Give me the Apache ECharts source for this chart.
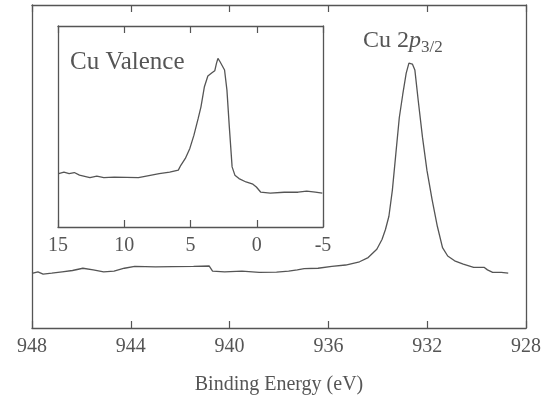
<!DOCTYPE html>
<html>
<head>
<meta charset="utf-8">
<script src="https://cdn.jsdelivr.net/npm/echarts@6/dist/echarts.min.js"></script>
<style>
  html, body { margin: 0; padding: 0; background: #fff; }
  #main { width: 545px; height: 400px; }
</style>
</head>
<body>
<div id="main"></div>
<script>
// Cu 2p3/2 core level (main plot)
var coreEnergy = [948.0, 947.76, 947.55, 947.2, 946.78, 946.36, 945.94, 945.52, 945.1, 944.68,
  944.26, 943.84, 943.0, 942.3, 941.46, 940.83, 940.69, 940.2, 939.5, 938.8,
  938.1, 937.61, 937.26, 936.98, 936.42, 935.86, 935.3, 934.74, 934.39, 934.04,
  933.83, 933.69, 933.55, 933.41, 933.27, 933.13, 932.99, 932.85, 932.74, 932.67,
  932.6, 932.5, 932.36, 932.19, 932.01, 931.8, 931.59, 931.38, 931.17, 930.89,
  930.54, 930.12, 929.7, 929.56, 929.35, 929.0, 928.72];
var coreCounts = [16.9, 17.4, 16.7, 17.0, 17.4, 17.8, 18.5, 18.0, 17.4, 17.6,
  18.5, 19.1, 18.9, 19.0, 19.1, 19.2, 17.6, 17.4, 17.6, 17.2,
  17.3, 17.6, 18.0, 18.4, 18.5, 19.1, 19.5, 20.5, 21.8, 24.4,
  27.4, 30.5, 34.6, 42.7, 53.9, 65.1, 72.3, 78.9, 82.0, 82.5,
  81.7, 79.9, 70.2, 59.0, 48.8, 39.7, 31.5, 24.9, 22.3, 20.8,
  19.8, 18.8, 18.8, 18.0, 17.2, 17.2, 17.0];

// Cu valence band (inset)
var valenceEnergy = [14.95, 14.55, 14.16, 13.77, 13.38, 12.59, 12.07, 11.54, 10.76, 8.93,
  8.14, 7.36, 6.57, 5.92, 5.73, 5.39, 5.05, 4.74, 4.42, 4.21,
  3.95, 3.69, 3.38, 3.17, 3.04, 2.93, 2.77, 2.64, 2.43, 2.25,
  2.07, 1.86, 1.65, 1.34, 0.81, 0.29, 0.03, -0.29, -1.02, -2.07,
  -3.12, -3.77, -4.42, -4.95];
var valenceCounts = [26.6, 27.3, 26.6, 27.1, 25.8, 24.6, 25.3, 24.6, 24.8, 24.6,
  25.6, 26.6, 27.3, 28.3, 30.7, 34.1, 39.1, 45.7, 54.0, 59.8,
  69.8, 75.1, 76.7, 77.7, 81.4, 83.9, 82.2, 82.7, 78.1, 68.1,
  49.8, 29.9, 25.8, 24.1, 22.4, 21.3, 19.9, 17.4, 16.9, 17.3,
  17.3, 17.9, 17.4, 16.9];

function zip(xs, ys) {
  var out = [];
  for (var i = 0; i < xs.length; i++) out.push([xs[i], ys[i]]);
  return out;
}

var ink = '#555';
var font = 'Liberation Serif';

var chart = echarts.init(document.getElementById('main'));

function xAxisFor(gridIndex, min, max, interval, pos, showLabels, name) {
  return {
    type: 'value', gridIndex: gridIndex, position: pos,
    min: min, max: max, interval: interval, inverse: true,
    axisLine: { show: true, onZero: false, lineStyle: { color: ink, width: 1.3 } },
    axisTick: { show: true, inside: true, length: 7, lineStyle: { color: ink, width: 1.2 } },
    axisLabel: { show: showLabels, margin: 9, color: ink, fontFamily: font, fontSize: 20 },
    splitLine: { show: false },
    name: name || '', nameLocation: 'middle', nameGap: 47,
    nameTextStyle: { color: ink, fontFamily: font, fontSize: 20 }
  };
}
function yAxisFor(gridIndex, pos) {
  return {
    type: 'value', gridIndex: gridIndex, position: pos, min: 0, max: 100,
    axisLine: { show: true, onZero: false, lineStyle: { color: ink, width: 1.3 } },
    axisTick: { show: false }, axisLabel: { show: false }, splitLine: { show: false }
  };
}

chart.setOption({
  animation: false,
  backgroundColor: '#fff',
  title: [
    { text: 'Cu Valence', left: 65, top: 45,
      textStyle: { color: ink, fontFamily: font, fontSize: 25, fontWeight: 'normal' } },
    { text: 'Cu 2{i|p}{s|3/2}', left: 358, top: 21,
      textStyle: { color: ink, fontFamily: font, fontSize: 24, fontWeight: 'normal',
        rich: {
          i: { fontFamily: font, fontSize: 24, fontStyle: 'italic', color: ink },
          s: { fontFamily: font, fontSize: 17, color: ink, verticalAlign: 'bottom', padding: [13, 0, 0, 0] }
        } } }
  ],
  grid: [
    { left: 32, right: 19, top: 5, bottom: 67 },
    { left: 58, width: 265, top: 26, height: 201, show: true, backgroundColor: '#fff', borderWidth: 0 }
  ],
  xAxis: [
    xAxisFor(0, 928, 948, 4, 'bottom', true, 'Binding Energy (eV)'),
    xAxisFor(0, 928, 948, 4, 'top', false),
    xAxisFor(1, -5, 15, 5, 'bottom', true),
    xAxisFor(1, -5, 15, 5, 'top', false)
  ],
  yAxis: [
    yAxisFor(0, 'left'), yAxisFor(0, 'right'),
    yAxisFor(1, 'left'), yAxisFor(1, 'right')
  ],
  series: [
    { type: 'line', xAxisIndex: 0, yAxisIndex: 0, data: zip(coreEnergy, coreCounts),
      showSymbol: false, lineStyle: { color: ink, width: 1.3 } },
    { type: 'line', xAxisIndex: 2, yAxisIndex: 2, data: zip(valenceEnergy, valenceCounts),
      showSymbol: false, lineStyle: { color: ink, width: 1.3 } }
  ]
});
</script>
</body>
</html>
